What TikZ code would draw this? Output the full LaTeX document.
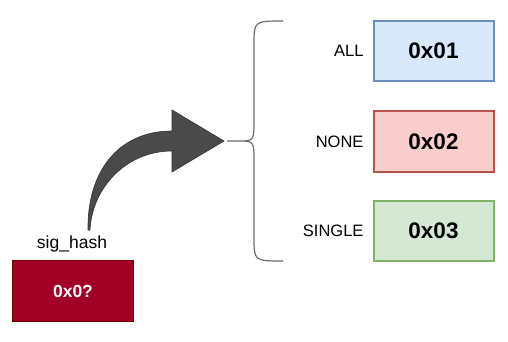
\documentclass[tikz,border=0pt]{standalone}
\usepackage{fontspec}
\setmainfont{Liberation Sans}
\usepackage{xcolor}
\usepackage{tikz}
\usetikzlibrary{calc,positioning}

\definecolor{hashfill}{HTML}{A20025}
\definecolor{hashline}{HTML}{6F0000}
\definecolor{blufill}{HTML}{DAE8FC}
\definecolor{bluline}{HTML}{6C8EBF}
\definecolor{redfill}{HTML}{F8CECC}
\definecolor{redline}{HTML}{B85450}
\definecolor{grnfill}{HTML}{D5E8D4}
\definecolor{grnline}{HTML}{82B366}
\definecolor{arrowgray}{HTML}{4A4A4A}

\begin{document}
\begin{tikzpicture}[x=1pt,y=-1pt,
  valbox/.style={draw,line width=2pt,minimum width=120pt,minimum height=60pt,
    font=\fontsize{22.5}{24}\selectfont\bfseries},
  flaglbl/.style={anchor=east,font=\fontsize{16.5}{18}\selectfont}]
			\useasboundingbox (0,0) rectangle (508,342);
			
			% value boxes
			\node[valbox,fill=blufill,draw=bluline] (all) at (433.5,51) {0x01};
			\node[valbox,fill=redfill,draw=redline] (none) at (433.5,141.5) {0x02};
			\node[valbox,fill=grnfill,draw=grnline] (single) at (433.5,231) {0x03};
			
			\node[flaglbl] (alllbl) at (367,51) {ALL};
			\node[flaglbl] (nonelbl) at (367,141.5) {NONE};
			\node[flaglbl] (singlelbl) at (367,231) {SINGLE};
			
			% sig_hash
			\node[draw=hashline,fill=hashfill,line width=1.6pt,minimum width=121pt,minimum height=61pt,
			text=white,font=\fontsize{17.5}{19}\selectfont\bfseries] (hashbox) at (73,291) {0x0?};
			\node[font=\fontsize{17.5}{19}\selectfont] (hashlbl) at (72,244) {sig\_hash};
			
			% brace
			\coordinate (bracetop) at (283,21);
			\coordinate (bracebot) at (283,261);
			\coordinate (bracetip) at (227,141);
			\draw[gray!85!black,line width=1.2pt]
			(bracetop) .. controls (254,21) .. (254,45) -- (254,120)
			.. controls (254,141) .. (238,141) -- (bracetip)
			(238,141) .. controls (254,141) .. (254,162) -- (254,237)
			.. controls (254,261) .. (bracebot);
			
			% curved arrow
			\coordinate (arrowstart) at (88,230);
			\fill[arrowgray,draw=black!80,line width=0.6pt]
			(arrowstart) .. controls (87,172) and (118,131) .. (172,131)
			-- (172,110) -- (224,141) -- (172,172) -- (172,151)
			.. controls (126,151) and (92,188) .. (90,230) -- cycle;
		\end{tikzpicture}
\end{document}
